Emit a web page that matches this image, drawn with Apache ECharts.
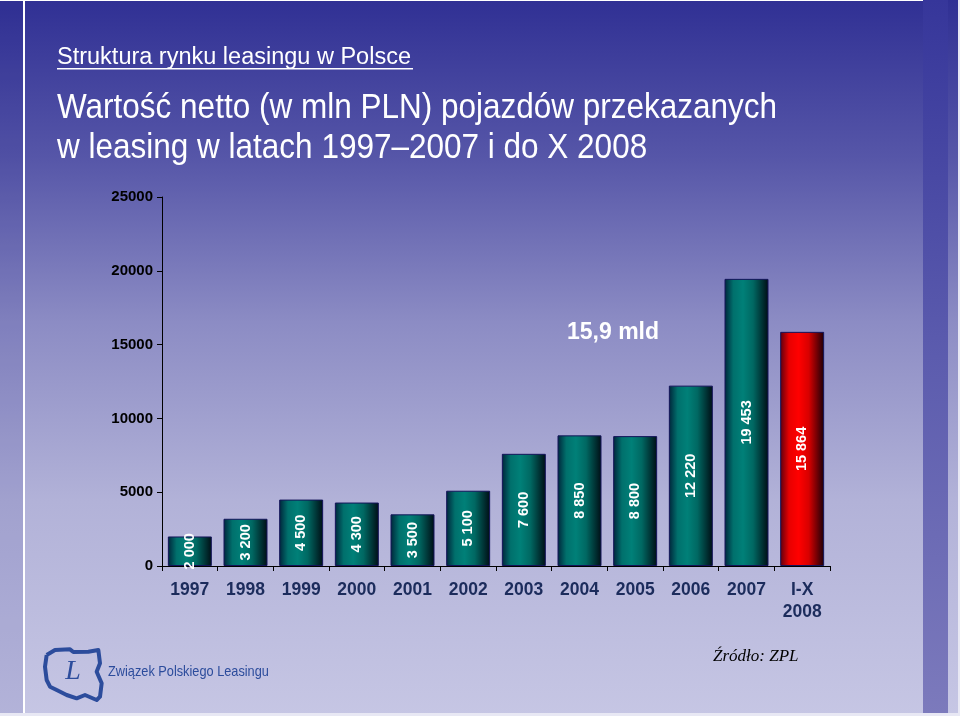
<!DOCTYPE html>
<html>
<head>
<meta charset="utf-8">
<script src="https://cdn.jsdelivr.net/npm/echarts@6/dist/echarts.min.js"></script>
<style>
html,body{margin:0;padding:0;background:#c6c6e4;overflow:hidden;}
#chart{width:960px;height:716px;}
</style>
</head>
<body>
<div id="chart"></div>
<script>
// ---- data ----
const years = ['1997','1998','1999','2000','2001','2002','2003','2004','2005','2006','2007','I-X\n2008'];
const values = [2000, 3200, 4500, 4300, 3500, 5100, 7600, 8850, 8800, 12220, 19453, 15864];
const yTicks = [0, 5000, 10000, 15000, 20000, 25000];
const highlightLabel = '15,9 mld';

const chart = echarts.init(document.getElementById('chart'), null, {renderer:'canvas'});

function fmt(v){ return String(v).replace(/\B(?=(\d{3})+(?!\d))/g, ' '); }

const bgStops = [
  {offset:0, color:'#303094'},
  {offset:0.22, color:'#5656a8'},
  {offset:0.45, color:'#8c8cc4'},
  {offset:0.7, color:'#b2b2d8'},
  {offset:1, color:'#c6c6e4'}
];

const tealGrad = new echarts.graphic.LinearGradient(0,0,1,0,[
  {offset:0, color:'#00243a'},
  {offset:0.2, color:'#00706c'},
  {offset:0.42, color:'#008078'},
  {offset:0.65, color:'#006862'},
  {offset:1, color:'#000d14'}
]);
const redGrad = new echarts.graphic.LinearGradient(0,0,1,0,[
  {offset:0, color:'#5a0010'},
  {offset:0.2, color:'#e80000'},
  {offset:0.42, color:'#ff0000'},
  {offset:0.65, color:'#d80000'},
  {offset:1, color:'#1a0008'}
]);

const lastIdx = values.length - 1;
const barData = values.map((v,i)=>({
  value: v,
  itemStyle: { color: i===lastIdx ? redGrad : tealGrad, borderColor:'#14145a', borderWidth:1 }
}));

// logo outline points (zoomed coordinates -> page)
const logoPts = [[50,75],[75,60],[120,58],[130,66],[175,65],[205,60],[210,100],[200,125],[215,160],[210,200],[200,210],[165,195],[140,205],[110,195],[80,180],[60,170],[50,150],[45,110],[50,75]]
  .map(p=>[30+p[0]/3, 630+p[1]/3]);

const option = {
  backgroundColor: new echarts.graphic.LinearGradient(0,0,0,1,bgStops),
  animation:false,
  grid:{left:162, right:130, top:197, bottom:150},
  xAxis:{
    type:'category',
    data: years,
    axisLine:{lineStyle:{color:'#000', width:1}},
    axisTick:{show:true, alignWithLabel:false, length:5, lineStyle:{color:'#000'}},
    axisLabel:{color:'#1c2c5c', fontFamily:'Liberation Sans, Arial, sans-serif', fontWeight:'bold', fontSize:17.5, margin:13, lineHeight:22, interval:0}
  },
  yAxis:{
    type:'value',
    min:0, max:25000, interval:5000,
    splitLine:{show:false},
    axisLine:{show:true, lineStyle:{color:'#000', width:1}},
    axisTick:{show:true, length:5, lineStyle:{color:'#000'}},
    axisLabel:{color:'#000', fontFamily:'Liberation Sans, Arial, sans-serif', fontWeight:'bold', fontSize:15, margin:9,
      formatter: v => yTicks.includes(v) ? String(v) : ''}
  },
  series:[{
    type:'bar',
    data: barData,
    barCategoryGap:'21%',
    label:{
      show:true, position:'inside', rotate:90,
      color:'#fff', fontFamily:'Liberation Sans, Arial, sans-serif', fontWeight:'bold', fontSize:14.5,
      formatter: p => fmt(p.value)
    }
  }],
  graphic:[
    // frame decorations
    {type:'rect', shape:{x:0,y:0,width:23,height:716}, style:{fill:'rgba(40,40,140,0.12)'}, silent:true},
    {type:'rect', shape:{x:23,y:0,width:2,height:716}, style:{fill:'#ffffff'}, silent:true},
    {type:'rect', shape:{x:0,y:0,width:960,height:1}, style:{fill:'#ffffff'}, silent:true},
    {type:'rect', shape:{x:0,y:713,width:960,height:3}, style:{fill:'#e8e8f4'}, silent:true},
    {type:'rect', shape:{x:948,y:0,width:10,height:713},
      style:{fill:new echarts.graphic.LinearGradient(0,0,0,1,bgStops)}, silent:true},
    {type:'rect', shape:{x:923,y:0,width:25,height:713},
      style:{fill:new echarts.graphic.LinearGradient(0,0,0,1,[{offset:0,color:'#36369a'},{offset:0.5,color:'#5c5cae'},{offset:1,color:'#7c7abc'}])}, silent:true},
    {type:'rect', shape:{x:958,y:0,width:2,height:716}, style:{fill:'#e8e8f4'}, silent:true},
    // titles
    {type:'text', x:57, y:46, style:{text:'Struktura rynku leasingu w Polsce', fill:'#fff', font:'23.5px "Liberation Sans", Arial, sans-serif', verticalAlign:'top'}},
    {type:'rect', shape:{x:57,y:68,width:356,height:1.5}, style:{fill:'#fff'}},
    {type:'text', x:57, y:88, scaleX:0.9, style:{text:'Wartość netto (w mln PLN) pojazdów przekazanych\nw leasing w latach 1997–2007 i do X 2008', fill:'#fff', lineHeight:40, verticalAlign:'top', font:'35px "Liberation Sans", Arial, sans-serif'}},
    // annotation
    {type:'text', x:613, y:333, style:{text:highlightLabel, fill:'#fff', align:'center', verticalAlign:'middle', font:'bold 23px "Liberation Sans", Arial, sans-serif'}},
    // logo
    {type:'polyline', shape:{points:logoPts}, style:{stroke:'#2c4c9c', lineWidth:4, fill:null, lineJoin:'round'}},
    {type:'text', x:73, y:672, style:{text:'L', fill:'#2c4c9c', align:'center', verticalAlign:'middle', font:'italic 28px "Liberation Serif", serif'}},
    {type:'text', x:108, y:664, scaleX:0.85, style:{text:'Związek Polskiego Leasingu', fill:'#2c4c9c', verticalAlign:'top', font:'15px "Liberation Sans", Arial, sans-serif'}},
    {type:'text', x:713, y:648, style:{text:'Źródło: ZPL', fill:'#000', verticalAlign:'top', font:'italic 17px "Liberation Serif", serif'}}
  ]
};
chart.setOption(option);
</script>
</body>
</html>
